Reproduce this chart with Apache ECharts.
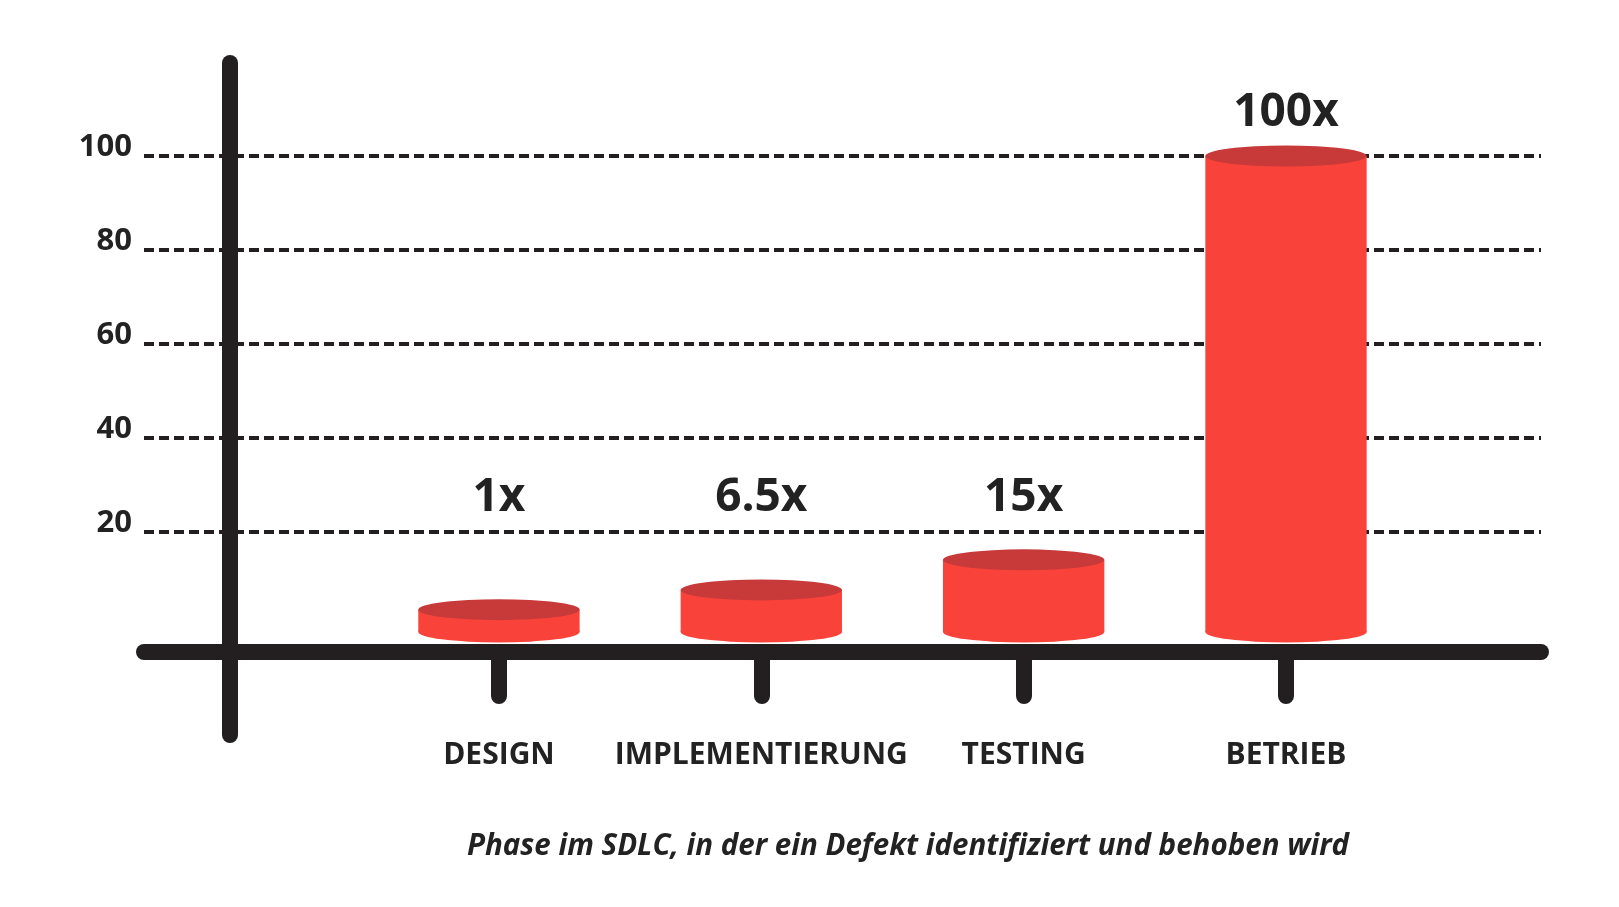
<!DOCTYPE html>
<html>
<head>
<meta charset="utf-8">
<script src="https://cdn.jsdelivr.net/npm/echarts@6/dist/echarts.min.js"></script>
<style>
  html, body { margin: 0; padding: 0; background: #ffffff; }
  #chart { width: 1619px; height: 907px; }
</style>
</head>
<body>
<div id="chart"></div>
<script>
// phases of the SDLC, bar heights as drawn, and the cost labels above the bars
const phases = ['DESIGN', 'IMPLEMENTIERUNG', 'TESTING', 'BETRIEB'];
const barHeights = [3.4, 7.6, 14, 100];
const costLabels = ['1x', '6.5x', '15x', '100x'];
const phasePositions = [1, 2, 3, 4];

const ink = '#231f20';
const red_body = '#f9433a';
const red_top = '#c8393a';
const font = "'Open Sans', 'Noto Sans', sans-serif";

const baseValue = -1.35;   // cylinders sit slightly below 0
const labelFloor = 18.1;   // small bars share one label height

function renderCylinder(params, api) {
    const x = api.value(0);
    const v = api.value(1);
    const i = params.dataIndex;
    const top = api.coord([x, v]);
    const base = api.coord([x, baseValue]);
    const w = api.size([0.615, 0])[0];
    const rx = w / 2;
    const ry = 10.5;
    const labelPt = api.coord([x, Math.max(v, labelFloor)]);
    return {
        type: 'group',
        children: [
            {
                type: 'rect',
                shape: { x: top[0] - rx, y: top[1], width: w, height: base[1] - top[1] },
                style: { fill: red_body },
            },
            {
                type: 'circle',
                x: base[0], y: base[1], scaleY: ry / rx,
                shape: { cx: 0, cy: 0, r: rx },
                style: { fill: red_body },
            },
            {
                type: 'circle',
                x: top[0], y: top[1], scaleY: ry / rx,
                shape: { cx: 0, cy: 0, r: rx },
                style: { fill: red_top },
            },
            {
                type: 'text',
                style: {
                    text: costLabels[i],
                    x: labelPt[0],
                    y: labelPt[1] - 43,
                    align: 'center',
                    verticalAlign: 'middle',
                    fontFamily: font,
                    fontWeight: 'bold',
                    fontSize: 46,
                    fill: '#222222',
                },
            },
        ],
    };
}

const chart = echarts.init(document.getElementById('chart'));
chart.setOption({
    animation: false,
    title: {
        text: 'Phase im SDLC, in der ein Defekt identifiziert und behoben wird',
        left: 462,
        top: 827,
        textStyle: {
            fontFamily: font,
            fontWeight: 'bold',
            fontStyle: 'italic',
            fontSize: 29.5,
            color: '#222222',
        },
    },
    grid: [
        { left: 144, right: 78, top: 156, bottom: 281.4 },
        { left: 230, right: 78, top: 63, bottom: 172 },  // only for the vertical axis line
    ],
    xAxis: [
        {
            type: 'value',
            gridIndex: 0,
            min: -0.353,
            max: 4.972,
            offset: 26.4,
            axisLine: { show: true, onZero: false, lineStyle: { color: ink, width: 16, cap: 'round' } },
            axisTick: {
                show: true,
                length: 44,
                customValues: phasePositions,
                lineStyle: { color: ink, width: 16, cap: 'round' },
            },
            axisLabel: {
                customValues: phasePositions,
                formatter: (v) => phases[Math.round(v) - 1] || '',
                margin: 103,
                verticalAlign: 'middle',
                fontFamily: font,
                fontWeight: 'bold',
                fontSize: 30,
                color: '#222222',
            },
            splitLine: { show: false },
        },
        { type: 'value', gridIndex: 1, min: 0, max: 1, show: false },
    ],
    yAxis: [
        {
            type: 'value',
            gridIndex: 0,
            min: 0,
            max: 100,
            interval: 20,
            axisLine: { show: false },
            axisTick: { show: false },
            axisLabel: {
                showMinLabel: false,
                margin: 12,
                verticalAlign: 'bottom',
                lineHeight: 18,
                fontFamily: font,
                fontWeight: 'bold',
                fontSize: 31,
                color: '#222222',
            },
            splitLine: {
                show: true,
                showMinLine: false,
                lineStyle: { color: ink, width: 4, type: [10, 5], cap: 'butt' },
            },
        },
        {
            type: 'value',
            gridIndex: 1,
            min: 0,
            max: 1,
            z: 3,
            axisLine: { show: true, lineStyle: { color: ink, width: 16, cap: 'round' } },
            axisTick: { show: false },
            axisLabel: { show: false },
            splitLine: { show: false },
        },
    ],
    series: [
        {
            name: 'Kosten',
            type: 'custom',
            xAxisIndex: 0,
            yAxisIndex: 0,
            z: 4,
            renderItem: renderCylinder,
            data: phasePositions.map((p, i) => [p, barHeights[i]]),
        },
    ],
});
</script>
</body>
</html>
